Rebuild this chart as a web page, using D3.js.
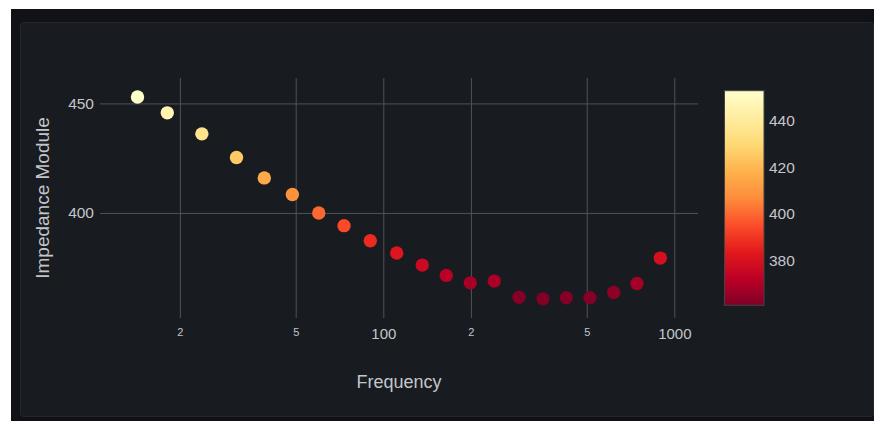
<!DOCTYPE html>
<html>
<head>
<meta charset="utf-8">
<script src="https://cdn.jsdelivr.net/npm/d3@7"></script>
<style>
  body { margin: 0; background: #fff; }
  svg { display: block; }
</style>
</head>
<body>
<svg id="chart"></svg>
<script>
// Data
const frequency = [14.3, 18.1, 23.8, 31.3, 39.0, 48.7, 60.0, 73.3, 90.2, 111.2, 136.1,
                   164.6, 199.0, 240.6, 292.6, 353.8, 425.5, 513.0, 619.0, 744.0, 895.0];
const impedance = [452.9, 445.7, 436.1, 425.3, 416.0, 408.4, 400.0, 394.2, 387.3, 381.7, 376.2,
                   371.5, 368.1, 368.9, 361.5, 360.8, 361.3, 361.3, 363.7, 367.8, 379.4];
const xTickValues = [20, 50, 100, 200, 500, 1000];
const xTickLabels = ["2", "5", "100", "2", "5", "1000"];
const yTickValues = [400, 450];
const cbTickValues = [380, 400, 420, 440];
// plotly YlOrRd stops (low -> high)
const ylOrRd = ["rgb(128,0,38)", "rgb(189,0,38)", "rgb(227,26,28)", "rgb(252,78,42)",
                "rgb(253,141,60)", "rgb(254,178,76)", "rgb(254,217,118)", "rgb(255,237,160)",
                "rgb(255,255,204)"];

const W = 874, H = 421;
const plot = {left: 100, right: 698, top: 78, bottom: 318};
const textCol = "#c4c6cc";
const gridCol = "#505257";
const font = "'Liberation Sans', Arial, sans-serif";

const svg = d3.select("#chart").attr("width", W).attr("height", H)
    .style("font-family", font);

// Grafana-like frames
svg.append("rect").attr("x", 11).attr("y", 9).attr("width", W - 11).attr("height", H - 9)
    .attr("fill", "#111217");
svg.append("rect").attr("x", 20.5).attr("y", 22.5).attr("width", 853).attr("height", 394)
    .attr("rx", 3).attr("fill", "#181b1f").attr("stroke", "#24262b");

// Scales
const x = d3.scaleLog().domain([10.63, 1206]).range([plot.left, plot.right]);
const y = d3.scaleLinear().domain([352.05, 461.6]).range([plot.bottom, plot.top]);
const [vmin, vmax] = d3.extent(impedance);
const color = d3.scaleLinear()
    .domain(ylOrRd.map((_, i) => vmin + (vmax - vmin) * i / (ylOrRd.length - 1)))
    .range(ylOrRd);

// X axis with grid
const xAxis = svg.append("g")
    .attr("transform", `translate(0,${plot.bottom})`)
    .call(d3.axisBottom(x).tickValues(xTickValues)
        .tickFormat((d, i) => xTickLabels[i])
        .tickSize(-(plot.bottom - plot.top)));
xAxis.select(".domain").remove();
xAxis.selectAll("line").attr("stroke", gridCol);
xAxis.selectAll("text")
    .attr("fill", textCol)
    .attr("dy", null)
    .attr("y", (d, i) => xTickLabels[i].length > 1 ? 21 : 17.5)
    .style("font-size", (d, i) => xTickLabels[i].length > 1 ? "15px" : "11px");

// Y axis with grid
const yAxis = svg.append("g")
    .attr("transform", `translate(${plot.left},0)`)
    .call(d3.axisLeft(y).tickValues(yTickValues)
        .tickSize(-(plot.right - plot.left)).tickPadding(6));
yAxis.select(".domain").remove();
yAxis.selectAll("line").attr("stroke", gridCol);
yAxis.selectAll("text").attr("fill", textCol).style("font-size", "15.5px");

// Points
svg.append("g").selectAll("circle")
    .data(frequency.map((f, i) => ({f, v: impedance[i]})))
    .join("circle")
    .attr("cx", d => x(d.f))
    .attr("cy", d => y(d.v))
    .attr("r", 6.7)
    .attr("fill", d => color(d.v));

// Axis titles
svg.append("text")
    .attr("x", (plot.left + plot.right) / 2).attr("y", 388)
    .attr("text-anchor", "middle").attr("fill", textCol)
    .style("font-size", "18px").text("Frequency");
svg.append("text")
    .attr("transform", `translate(49,${(plot.top + plot.bottom) / 2}) rotate(-90)`)
    .attr("text-anchor", "middle").attr("fill", textCol)
    .style("font-size", "19px").text("Impedance Module");

// Colorbar
const cb = {x: 724.5, y: 90.7, w: 39.5, h: 214.6};
const grad = svg.append("defs").append("linearGradient")
    .attr("id", "cbgrad").attr("x1", 0).attr("y1", 1).attr("x2", 0).attr("y2", 0);
grad.selectAll("stop").data(ylOrRd).join("stop")
    .attr("offset", (d, i) => i / (ylOrRd.length - 1))
    .attr("stop-color", d => d);
svg.append("rect")
    .attr("x", cb.x).attr("y", cb.y).attr("width", cb.w).attr("height", cb.h)
    .attr("fill", "url(#cbgrad)").attr("stroke", "#444");
const cbScale = d3.scaleLinear().domain([vmin, vmax]).range([cb.y + cb.h, cb.y]);
const cbAxis = svg.append("g")
    .attr("transform", `translate(${cb.x + cb.w},0)`)
    .call(d3.axisRight(cbScale).tickValues(cbTickValues).tickSize(0).tickPadding(5));
cbAxis.select(".domain").remove();
cbAxis.selectAll("text").attr("fill", textCol).style("font-size", "15.5px");
</script>
</body>
</html>
